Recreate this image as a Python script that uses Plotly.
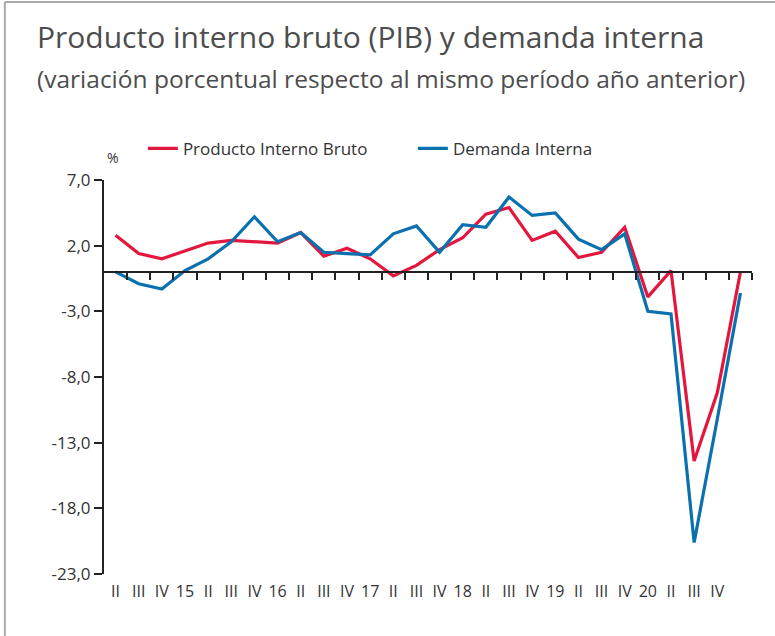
import plotly.graph_objects as go

# Quarter labels (2014-II ... 2020-IV as printed on the chart); last point unlabeled
quarter_labels = ["II", "III", "IV", "15", "II", "III", "IV", "16", "II", "III", "IV", "17",
                  "II", "III", "IV", "18", "II", "III", "IV", "19", "II", "III", "IV", "20",
                  "II", "III", "IV", ""]

pib = [2.8, 1.4, 1.0, 1.6, 2.2, 2.4, 2.3, 2.2, 3.0, 1.2, 1.8, 1.0, -0.3, 0.5,
       1.7, 2.6, 4.4, 4.9, 2.4, 3.1, 1.1, 1.5, 3.4, -1.9, 0.1, -14.4, -9.2, 0.0]
demanda = [0.0, -0.9, -1.3, 0.1, 1.0, 2.3, 4.2, 2.3, 3.0, 1.5, 1.4, 1.3, 2.9, 3.5,
           1.5, 3.6, 3.4, 5.7, 4.3, 4.5, 2.5, 1.7, 2.9, -3.0, -3.2, -20.6, -11.2, -1.6]

y_ticks = [7, 2, -3, -8, -13, -18, -23]
y_tick_text = [f"{v:.1f}".replace(".", ",") for v in y_ticks]

RED = "#E3173E"
BLUE = "#0A70AE"
FONT = "Open Sans"
TXT = "#333333"

x = list(range(len(pib)))
n = len(x)
y_min, y_max = min(y_ticks), max(y_ticks)

fig = go.Figure()
fig.add_trace(go.Scatter(x=x, y=pib, mode="lines", name="Producto Interno Bruto",
                         line=dict(color=RED, width=3.2)))
fig.add_trace(go.Scatter(x=x, y=demanda, mode="lines", name="Demanda Interna",
                         line=dict(color=BLUE, width=3.2)))
# invisible helper trace so the zero-line axis (x2) is drawn
fig.add_trace(go.Scatter(x=x, y=pib, xaxis="x2", mode="lines", opacity=0,
                         showlegend=False, hoverinfo="skip"))

fig.update_layout(
    width=775, height=636,
    margin=dict(l=104, r=23, t=180, b=62, autoexpand=False),
    paper_bgcolor="white", plot_bgcolor="white",
    separators=",.",
    font=dict(family=FONT, color=TXT),
    showlegend=True,
    legend=dict(orientation="h", x=0.060, y=1.079, xanchor="left", yanchor="middle",
                font=dict(size=17, color=TXT), entrywidth=225, entrywidthmode="pixels",
                bgcolor="rgba(0,0,0,0)", borderwidth=0, tracegroupgap=0),
    xaxis=dict(range=[-0.5, n - 0.5], tickmode="array", tickvals=x, ticktext=quarter_labels,
               showline=False, ticks="", showgrid=False, zeroline=False,
               ticklabelstandoff=6,
               tickfont=dict(size=16, color=TXT)),
    xaxis2=dict(overlaying="x", anchor="free", position=(0 - y_min) / (y_max - y_min),
                side="bottom", range=[-0.5, n - 0.5], tickmode="array",
                tickvals=[i + 0.5 for i in x], showticklabels=False,
                showline=True, linecolor="#222222", linewidth=2,
                ticks="outside", ticklen=7, tickwidth=1.5, tickcolor="#222222",
                showgrid=False, zeroline=False),
    yaxis=dict(range=[y_min, y_max], tickmode="array", tickvals=y_ticks, ticktext=y_tick_text,
               showline=True, linecolor="#222222", linewidth=2, ticks="outside",
               ticklen=8, tickwidth=1.5, tickcolor="#222222", showgrid=False, zeroline=False,
               tickfont=dict(size=17, color=TXT)),
)

fig.add_annotation(text="Producto interno bruto (PIB) y demanda interna",
                   xref="paper", yref="paper", x=-0.107, y=1.363, xanchor="left", yanchor="middle",
                   showarrow=False, font=dict(size=30, color="#4d4d4d", family=FONT))
fig.add_annotation(text="(variación porcentual respecto al mismo período año anterior)",
                   xref="paper", yref="paper", x=-0.107, y=1.257, xanchor="left", yanchor="middle",
                   showarrow=False, font=dict(size=24.5, color="#4d4d4d", family=FONT))
fig.add_annotation(text="%", xref="paper", yref="paper", x=0.002, y=1.058,
                   xanchor="left", yanchor="middle", showarrow=False,
                   font=dict(size=14, color=TXT, family=FONT))

# outer frame (top and left edges)
fig.add_shape(type="line", xref="paper", yref="paper", x0=-0.153, x1=1.04, y0=1.452, y1=1.452,
              line=dict(color="#aaaaaa", width=2))
fig.add_shape(type="line", xref="paper", yref="paper", x0=-0.153, x1=-0.153, y0=-0.16, y1=1.452,
              line=dict(color="#aaaaaa", width=2))

fig.write_html("out.html", config={"displayModeBar": False},
               post_script="document.body.style.margin='0px';")
